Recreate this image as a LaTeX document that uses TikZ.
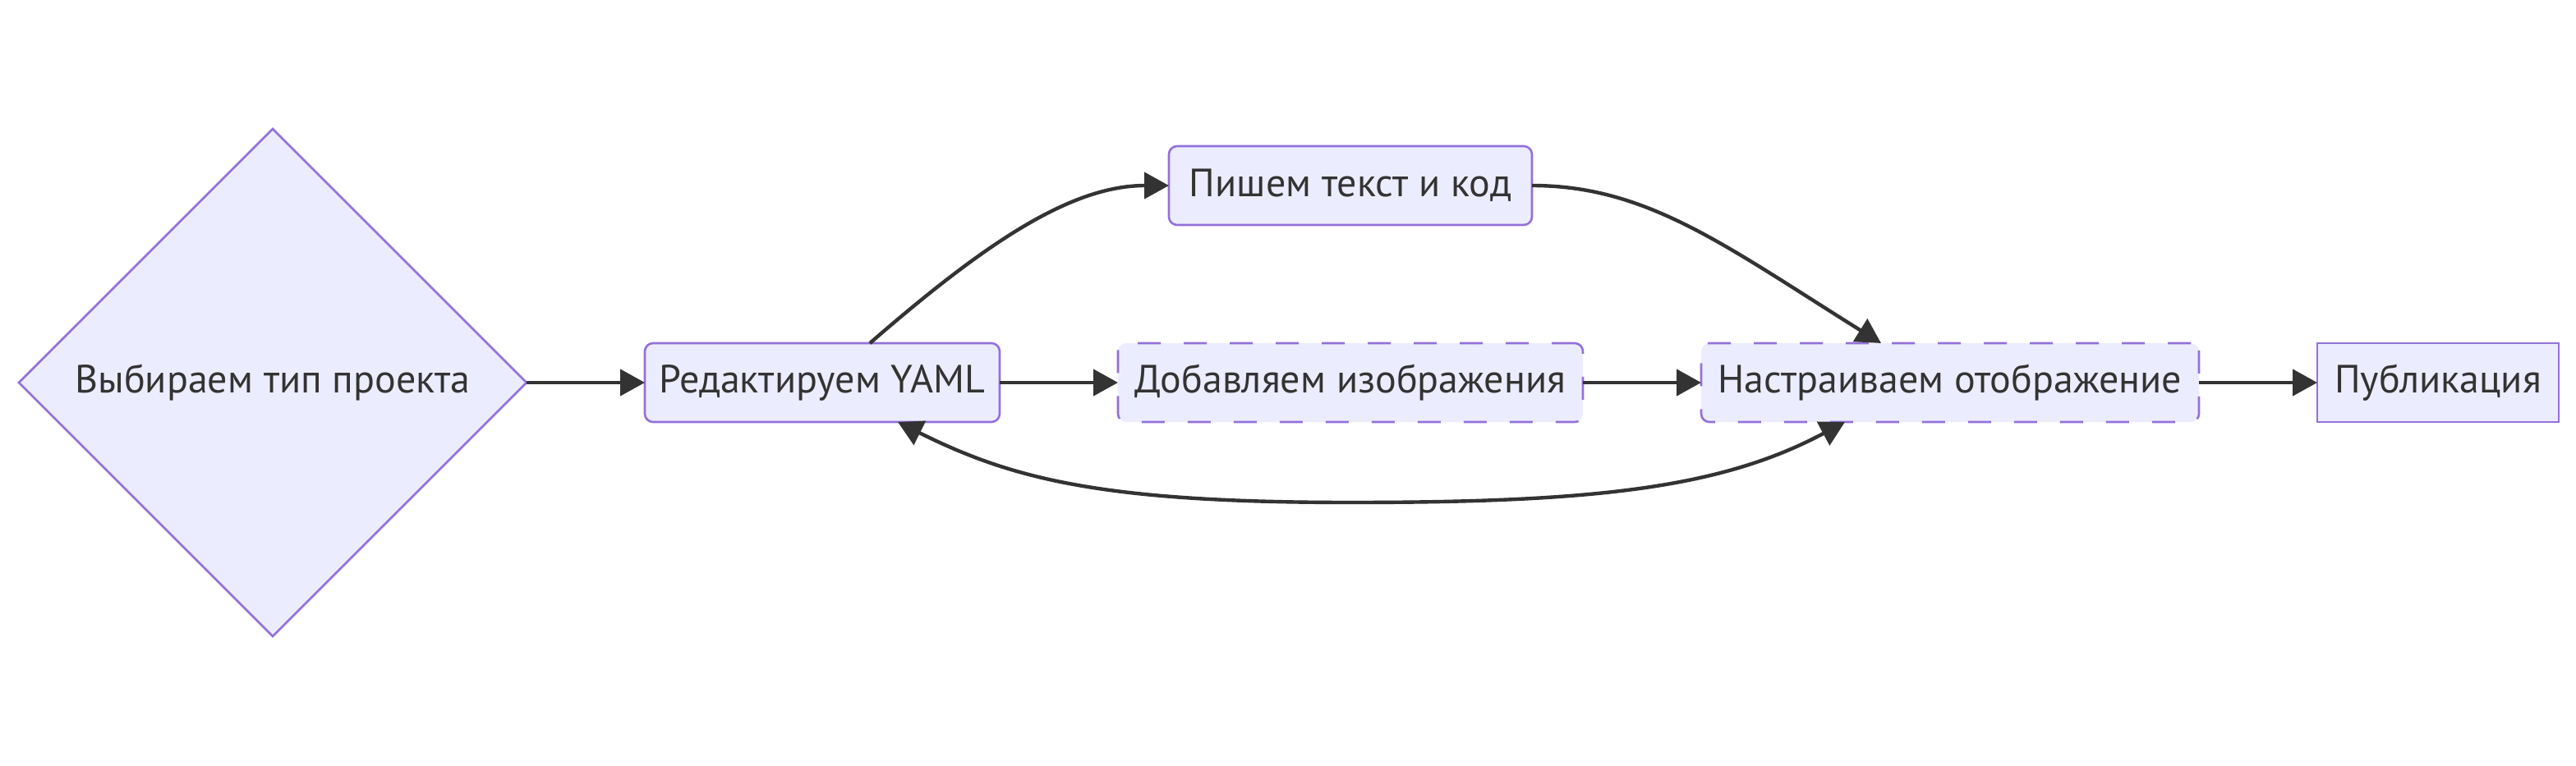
\documentclass[tikz,border=0pt]{standalone}
\usepackage{fontspec}
\setmainfont{PT Sans}
\usepackage{tikz}
\usetikzlibrary{shapes.geometric, arrows.meta, positioning}

\definecolor{boxfill}{HTML}{ECECFF}
\definecolor{boxline}{HTML}{9370DB}
\definecolor{ink}{HTML}{333333}

\begin{document}
\begin{tikzpicture} [node distance = 72pt, font=\fontsize{24}{28}\selectfont,
  box/.style = {draw=boxline, fill=boxfill, line width=1.3pt, text=ink,
                minimum height=48pt, inner sep=2pt, outer sep=0pt},
  soft/.style = {box, rounded corners=5pt},
  dashbox/.style = {soft, dash pattern=on 14pt off 14pt},
  choice/.style = {box, diamond, minimum width=309pt, minimum height=309pt, inner sep=0pt},
  arr/.style = {-{Triangle[length=15pt, width=16pt]}, ink, line width=2.2pt},
  both/.style = {{Triangle[length=15pt, width=16pt]}-{Triangle[length=15pt, width=16pt]}, ink, line width=2.2pt}]

\useasboundingbox (-166pt,-233pt) rectangle (1402pt,233pt);

\node (type) [choice] at (0,0) {Выбираем тип проекта};
% main line
\node (yaml) [soft, minimum width=216pt, right = of type] {Редактируем YAML};
\node (pics) [dashbox, minimum width=283pt, right = of yaml] {Добавляем изображения};
\node (view) [dashbox, minimum width=303pt, right = of pics] {Настраиваем отображение};
\node (pub) [box, minimum width=147pt, right = of view] {Публикация};
% upper branch
\node (write) [soft, minimum width=221pt, above = of pics] {Пишем текст и код};

\path [arr]
  (type) edge (yaml);
\path [arr]
  (yaml) edge (pics);
\path [arr]
  (pics) edge (view);
\path [arr]
  (view) edge (pub);

\path [arr]
  ([xshift=29pt]yaml.north) edge [out=41, in=180, out distance=92pt, in distance=60pt] (write.west);
\path [arr]
  (write.east) edge [out=0, in=148, out distance=70pt, in distance=112pt] ([xshift=-42pt]view.north);
% back loop under the main line
\draw [both]
  ([xshift=-64pt]view.south) .. controls +(-75pt,-40pt) and +(150pt,0pt) .. ([yshift=-49pt]pics.south)
  .. controls +(-150pt,0pt) and +(70pt,-35pt) .. ([xshift=46pt]yaml.south);
\end{tikzpicture}
\end{document}
